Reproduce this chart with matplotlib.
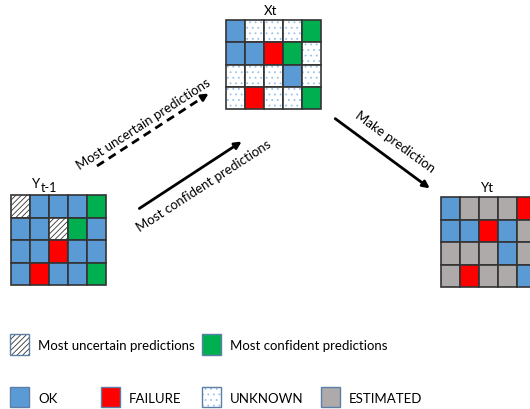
import matplotlib.pyplot as plt
from matplotlib.patches import Rectangle

plt.rcParams['font.family'] = ['Lato', 'DejaVu Sans']
plt.rcParams['hatch.linewidth'] = 0.6

# codigos: B=OK, R=FAILURE, G=confiable, H=incierta, U=desconocido, E=estimado
grid_prev = [["H", "B", "B", "B", "G"],
             ["B", "B", "H", "G", "B"],
             ["B", "B", "R", "B", "B"],
             ["B", "R", "B", "B", "G"]]
grid_xt = [["B", "U", "U", "U", "G"],
           ["B", "B", "R", "G", "U"],
           ["U", "U", "U", "B", "U"],
           ["U", "R", "U", "U", "G"]]
grid_yt = [["B", "E", "E", "E", "R"],
           ["B", "B", "R", "B", "E"],
           ["E", "E", "E", "B", "E"],
           ["E", "R", "E", "E", "B"]]

legend_row1 = [("H", "Most uncertain predictions"), ("G", "Most confident predictions")]
legend_row2 = [("B", "OK"), ("R", "FAILURE"), ("U", "UNKNOWN"), ("E", "ESTIMATED")]

colores = {"B": "#5B9BD5", "R": "#FF0000", "G": "#00B050", "E": "#AEAAAA",
           "H": "white", "U": "white"}


def celda(ax, x, y, w, h, code, borde="#333333", lw=1.2):
    ax.add_patch(Rectangle((x, y), w, h, facecolor=colores[code], edgecolor="none"))
    if code == "H":
        ax.add_patch(Rectangle((x, y), w, h, facecolor="none", edgecolor="#333333",
                               hatch="//////", lw=0))
    if code == "U":
        ax.add_patch(Rectangle((x, y), w, h, facecolor="none", edgecolor="#9DC3E6",
                               hatch="...", lw=0))
    ax.add_patch(Rectangle((x, y), w, h, facecolor="none", edgecolor=borde, lw=lw))


def dibujar_grid(ax, grid, x0, y0, w, h):
    for i, fila in enumerate(grid):
        for j, code in enumerate(fila):
            celda(ax, x0 + j * w, y0 + i * h, w, h, code)


fig = plt.figure(figsize=(5.3, 4.1), dpi=100)
ax = fig.add_axes([0, 0, 1, 1])
ax.set_xlim(0, 530)
ax.set_ylim(410, 0)
ax.axis("off")

dibujar_grid(ax, grid_prev, 11, 196, 19, 22.5)
dibujar_grid(ax, grid_xt, 226, 21, 19, 22.25)
dibujar_grid(ax, grid_yt, 441, 198, 19, 22.5)

ax.text(40, 190, "Y", ha="right", va="bottom", fontsize=9.5)
ax.text(41, 194, "t-1", ha="left", va="bottom", fontsize=9)
ax.text(271, 17, "Xt", ha="center", va="bottom", fontsize=9.5)
ax.text(488, 194, "Yt", ha="center", va="bottom", fontsize=9.5)

# flecha discontinua
ax.plot([97, 202], [167, 99], color="black", lw=2, ls=(0, (3, 2)))
ax.annotate("", xy=(211, 93), xytext=(200, 100),
            arrowprops=dict(arrowstyle="-|>", color="black", lw=2, mutation_scale=10))
ax.text(143, 124, "Most uncertain predictions", rotation=33, ha="center", va="center",
        fontsize=9.5, rotation_mode="anchor")

# flecha continua
ax.annotate("", xy=(244, 141), xytext=(137, 211),
            arrowprops=dict(arrowstyle="-|>", color="black", lw=2, mutation_scale=10))
ax.text(204, 186, "Most confident predictions", rotation=33, ha="center", va="center",
        fontsize=9.5, rotation_mode="anchor")

# hacer prediccion
ax.annotate("", xy=(432, 191), xytext=(333, 118),
            arrowprops=dict(arrowstyle="-|>", color="black", lw=2, mutation_scale=10))
ax.text(395, 142, "Make prediction", rotation=-36, ha="center", va="center",
        fontsize=9.5, rotation_mode="anchor")

# leyenda
for (code, etiqueta), x in zip(legend_row1, [10, 202]):
    celda(ax, x, 335, 19, 21, code, borde="#5B7FA8", lw=1)
    ax.text(x + 28, 346, etiqueta, va="center", fontsize=9.5)
for (code, etiqueta), x in zip(legend_row2, [10, 101, 202, 321]):
    celda(ax, x, 388, 19, 20, code, borde="#5B7FA8", lw=1)
    ax.text(x + 28, 399, etiqueta, va="center", fontsize=9.5)

fig.savefig("out.png", dpi=100)
